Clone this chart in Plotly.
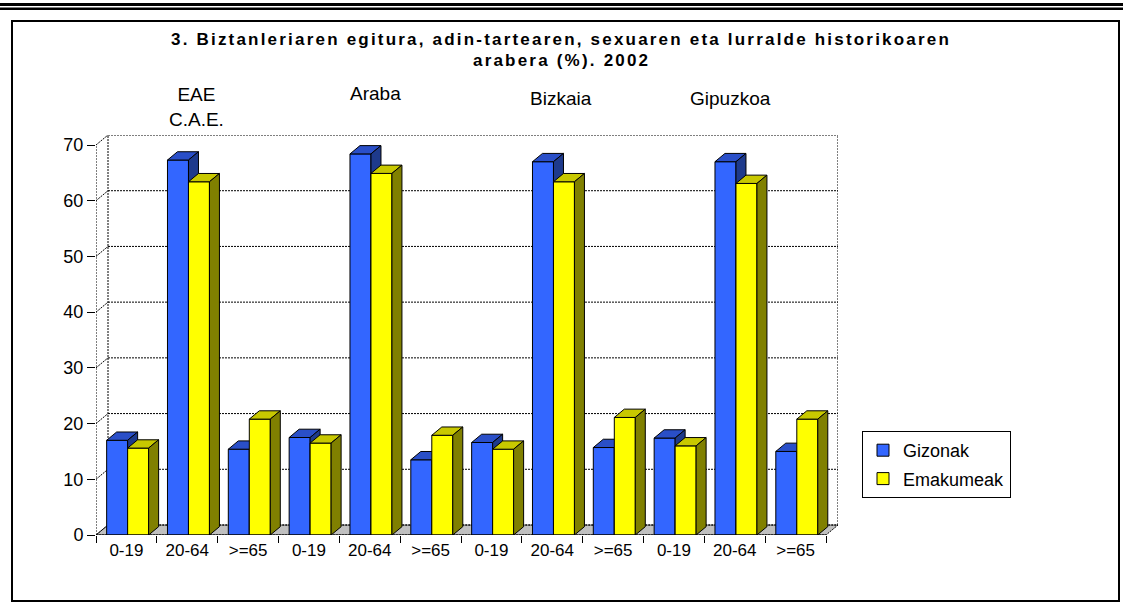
import plotly.graph_objects as go

# ---------------- data ----------------
age_groups = ["0-19", "20-64", ">=65"]
regions = ["EAE<br>C.A.E.", "Araba", "Bizkaia", "Gipuzkoa"]
categories = age_groups * 4
gizonak = [17.0, 67.3, 15.4, 17.5, 68.4, 13.5, 16.6, 67.0, 15.7, 17.4, 67.0, 15.0]
emakumeak = [15.6, 63.4, 20.8, 16.5, 64.9, 17.9, 15.4, 63.4, 21.1, 16.0, 63.1, 20.8]
series_names = ["Gizonak", "Emakumeak"]
title_lines = ["3. Biztanleriaren egitura, adin-tartearen, sexuaren eta lurralde historikoaren",
               "arabera (%). 2002"]

# ---------------- geometry ----------------
W, H = 1123, 611
L, R, T, B = 96, 838, 135, 535
n = len(categories)
pxu = 730 / n                 # px per category
yscale = 390 / 70             # px per unit
dx = (R - L) / pxu - n        # wall depth in category units
dy = (B - T) / yscale - 70    # wall depth in value units
bdx = 10 / pxu                # bar depth
bdy = 8.3 / yscale

def px2paper(x, y):
    return (x - L) / (R - L), (B - y) / (B - T)

def faces(vals, a, b):
    fx, fy, tx, ty, sx, sy = [], [], [], [], [], []
    for i, v in enumerate(vals):
        x0, x1 = i + a, i + b
        fx += [x0, x0, x1, x1, x0, None]
        fy += [0, v, v, 0, 0, None]
        tx += [x0, x1, x1 + bdx, x0 + bdx, x0, None]
        ty += [v, v, v + bdy, v + bdy, v, None]
        sx += [x1, x1, x1 + bdx, x1 + bdx, x1, None]
        sy += [0, v, v + bdy, bdy, 0, None]
    return (fx, fy), (tx, ty), (sx, sy)

fig = go.Figure()

styles = [
    dict(vals=gizonak, a=-0.325, b=0.02, front="#3366FF", top="#2A4FC8", side="#1E3A8C"),
    dict(vals=emakumeak, a=0.02, b=0.365, front="#FFFF00", top="#C8C800", side="#808000"),
]
for name, st in zip(series_names, styles):
    (fx, fy), (tx, ty), (sx, sy) = faces(st["vals"], st["a"], st["b"])
    for (xs, ys, col) in [(fx, fy, st["front"]), (tx, ty, st["top"]), (sx, sy, st["side"])]:
        fig.add_trace(go.Scatter(x=xs, y=ys, mode="lines", fill="toself", fillcolor=col,
                                 line=dict(color="black", width=1), showlegend=False,
                                 hoverinfo="skip"))
    # legend-only entry (square swatch)
    fig.add_trace(go.Bar(x=[None], y=[None], name=name, legendgroup=name,
                         marker=dict(color=st["front"], line=dict(color="black", width=1))))

shapes = []
dotline = dict(color="black", width=1, dash="2px,1px")
xl, xr = -0.5, n - 0.5
# floor
shapes.append(dict(type="path", xref="x", yref="y", layer="below",
                   path=f"M {xl},0 L {xr},0 L {xr+dx},{dy} L {xl+dx},{dy} Z",
                   fillcolor="#C0C0C0", line=dotline))
# back wall gridlines and left wall diagonals
for v in range(0, 71, 10):
    shapes.append(dict(type="line", xref="x", yref="y", layer="below",
                       x0=xl + dx, x1=xr + dx, y0=v + dy, y1=v + dy, line=dotline))
    shapes.append(dict(type="line", xref="x", yref="y", layer="below",
                       x0=xl, x1=xl + dx, y0=v, y1=v + dy, line=dotline))
# wall verticals
for xv in (xl + dx, xr + dx):
    shapes.append(dict(type="line", xref="x", yref="y", layer="below",
                       x0=xv, x1=xv, y0=dy, y1=70 + dy, line=dotline))
# front vertical axis line
shapes.append(dict(type="line", xref="x", yref="y", layer="below",
                   x0=xl, x1=xl, y0=0, y1=70, line=dotline))
# front floor line
shapes.append(dict(type="line", xref="x", yref="y", layer="above",
                   x0=xl, x1=xr, y0=0, y1=0, line=dict(color="black", width=1)))

# outer frame and top rules
fx0, fy0 = px2paper(12, 21)
fx1, fy1 = px2paper(1119, 601)
shapes.append(dict(type="rect", xref="paper", yref="paper", x0=fx0, x1=fx1, y0=fy0, y1=fy1,
                   line=dict(color="black", width=2)))
for (ya, yb) in [(3, 6), (7.5, 10)]:
    ax0, ay0 = px2paper(0, ya)
    ax1, ay1 = px2paper(W, yb)
    shapes.append(dict(type="rect", xref="paper", yref="paper", x0=ax0, x1=ax1, y0=ay0, y1=ay1,
                       fillcolor="black", line=dict(width=0)))

annotations = []
font = "Liberation Sans, Arial, sans-serif"
for line, ypx in zip(title_lines, [40, 61]):
    ax, ay = px2paper(561, ypx)
    annotations.append(dict(text=f"<span style='letter-spacing:2.2px'><b>{line}</b></span>",
                            xref="paper", yref="paper", x=ax, y=ay,
                            xanchor="center", yanchor="middle", showarrow=False,
                            font=dict(family=font, size=17, color="black")))
for reg, (xpx, ypx) in zip(regions, [(196, 107), (375, 94), (561, 99), (730, 99)]):
    ax, ay = px2paper(xpx, ypx)
    annotations.append(dict(text=reg, xref="paper", yref="paper", x=ax, y=ay,
                            xanchor="center", yanchor="middle", showarrow=False,
                            font=dict(family=font, size=19, color="black")))

lx, ly = px2paper(862, 431)
fig.update_layout(
    width=W, height=H, autosize=False,
    margin=dict(l=L, r=W - R, t=T, b=H - B, pad=0),
    paper_bgcolor="white", plot_bgcolor="white",
    showlegend=True,
    legend=dict(x=lx, y=ly, xanchor="left", yanchor="top",
                bordercolor="black", borderwidth=1, bgcolor="white",
                font=dict(family=font, size=18, color="black"),
                tracegroupgap=2, itemwidth=30),
    xaxis=dict(range=[xl, xr + dx], showgrid=False, zeroline=False, showline=False,
               tickmode="array", tickvals=list(range(n)), ticktext=categories, ticks="",
               ticklabelstandoff=3,
               tickfont=dict(family=font, size=17, color="black"),
               minor=dict(tickmode="array", tickvals=[i - 0.5 for i in range(n + 1)],
                          ticks="outside", ticklen=7, tickcolor="black", tickwidth=1,
                          showgrid=False)),
    yaxis=dict(range=[0, 70 + dy], showgrid=False, zeroline=False, showline=False,
               tickmode="array", tickvals=list(range(0, 71, 10)), ticks="outside",
               ticklen=8, tickcolor="black",
               tickfont=dict(family=font, size=18, color="black")),
    shapes=shapes, annotations=annotations,
)

fig.write_html("out.html", config={"displayModeBar": False},
               post_script="document.body.style.margin='0px';")
